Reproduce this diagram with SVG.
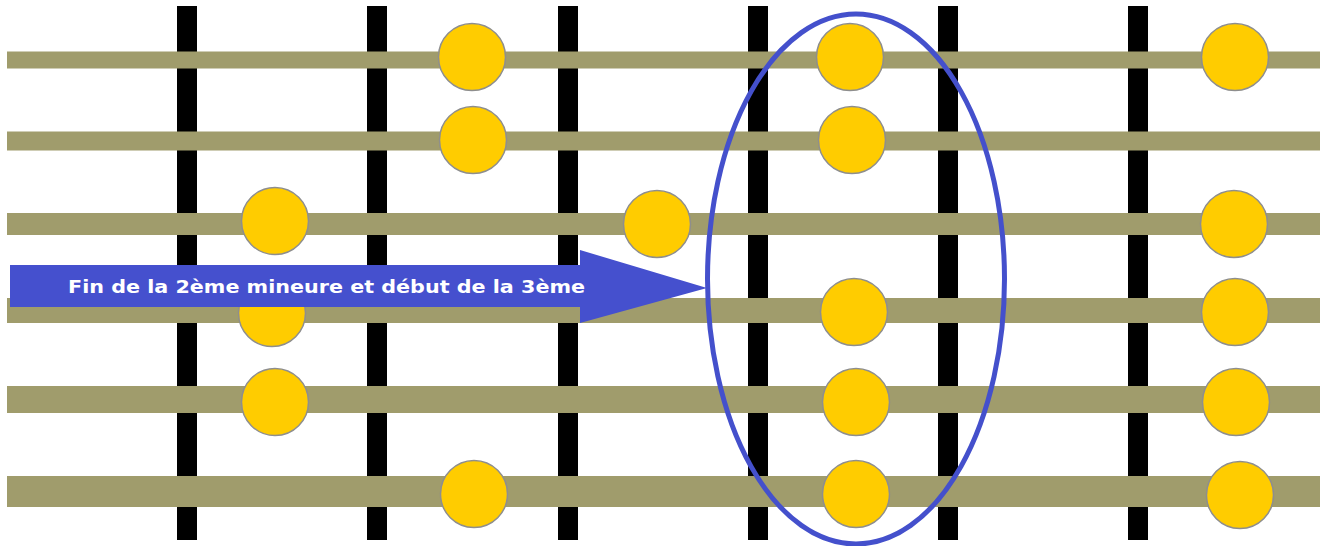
<svg xmlns="http://www.w3.org/2000/svg" width="1324" height="546" viewBox="0 0 1324 546">
<style>
.fret{fill:#000}
.str{fill:#A09C6C}
.dot{fill:#FFCC00;stroke:#8E8E8E;stroke-width:1.5}
.lbl{font-family:"DejaVu Sans","Liberation Sans",sans-serif;font-weight:bold;font-size:17px;fill:#fff}
</style>
<rect width="1324" height="546" fill="#fff"/>
<g id="frets">
<rect class="fret" x="177" y="6" width="20" height="534"/>
<rect class="fret" x="367" y="6" width="20" height="534"/>
<rect class="fret" x="558" y="6" width="20" height="534"/>
<rect class="fret" x="748" y="6" width="20" height="534"/>
<rect class="fret" x="938" y="6" width="20" height="534"/>
<rect class="fret" x="1128" y="6" width="20" height="534"/>
</g>
<g id="strings">
<rect class="str" x="7" y="51.5" width="1313" height="17"/>
<rect class="str" x="7" y="131.5" width="1313" height="19"/>
<rect class="str" x="7" y="213" width="1313" height="22"/>
<rect class="str" x="7" y="298" width="1313" height="25"/>
<rect class="str" x="7" y="386" width="1313" height="27"/>
<rect class="str" x="7" y="476" width="1313" height="31"/>
</g>
<g id="dots">
<g id="r1"><circle class="dot" cx="472" cy="57" r="33.5"/><circle class="dot" cx="850" cy="57" r="33.5"/><circle class="dot" cx="1235" cy="57" r="33.5"/></g>
<g id="r2"><circle class="dot" cx="473" cy="140" r="33.5"/><circle class="dot" cx="852" cy="140" r="33.5"/></g>
<g id="r3"><circle class="dot" cx="275" cy="221" r="33.5"/><circle class="dot" cx="657" cy="224" r="33.5"/><circle class="dot" cx="1234" cy="224" r="33.5"/></g>
<g id="r4"><circle class="dot" cx="272" cy="313" r="33.5"/><circle class="dot" cx="854" cy="312" r="33.5"/><circle class="dot" cx="1235" cy="312" r="33.5"/></g>
<g id="r5"><circle class="dot" cx="275" cy="402" r="33.5"/><circle class="dot" cx="856" cy="402" r="33.5"/><circle class="dot" cx="1236" cy="402" r="33.5"/></g>
<g id="r6"><circle class="dot" cx="474" cy="494" r="33.5"/><circle class="dot" cx="856" cy="494" r="33.5"/><circle class="dot" cx="1240" cy="495" r="33.5"/></g>
</g>
<g id="arrow">
<path d="M10,265 L580,265 L580,250 L707,288 L580,323 L580,307 L10,307 Z" fill="#4550CE"/>
<text class="lbl" x="68" y="293" textLength="517" lengthAdjust="spacingAndGlyphs">Fin de la 2ème mineure et début de la 3ème</text>
</g>
<g id="highlight">
<ellipse cx="856" cy="279" rx="148.5" ry="265" fill="none" stroke="#4450CC" stroke-width="5"/>
</g>
</svg>
